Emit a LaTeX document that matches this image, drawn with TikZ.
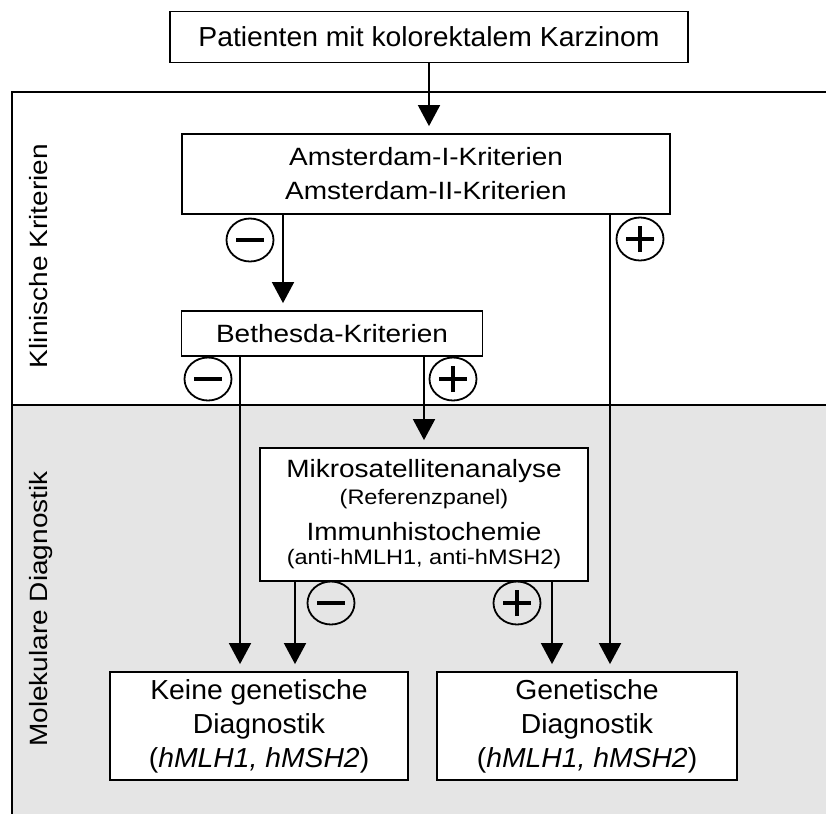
\documentclass[tikz,border=0pt]{standalone}
\usepackage{fontspec}
\setmainfont{Liberation Sans}[FakeStretch=1.12]
\newfontfamily\narrowfont{Liberation Sans}[FakeStretch=1.03]
\usepackage{tikz}
\usetikzlibrary{arrows.meta,shapes.geometric}
\definecolor{panelgray}{gray}{0.9}

\begin{document}
\begin{tikzpicture}[
  x=1pt,y=-1pt,
  box/.style={draw, fill=white, line width=1.8pt, align=center, inner sep=0pt, font=\fontsize{25}{34}\selectfont},
  nbox/.style={box, font=\narrowfont\fontsize{27.5}{34}\selectfont},
  side/.style={rotate=90, anchor=base, font=\fontsize{25}{30}\selectfont},
  sgn/.style={draw, ellipse, line width=1.8pt, minimum width=47pt, minimum height=43pt, inner sep=0pt},
  minus/.style={sgn, path picture={\draw[line width=4pt] ([xshift=-14pt]path picture bounding box.center) -- ([xshift=14pt]path picture bounding box.center);}},
  plus/.style={sgn, path picture={\draw[line width=4pt] ([xshift=-14pt]path picture bounding box.center) -- ([xshift=14pt]path picture bounding box.center) ([yshift=-13pt]path picture bounding box.center) -- ([yshift=13pt]path picture bounding box.center);}},
  arr/.style={-{Triangle[length=21pt,width=22pt]}, line width=1.8pt, shorten >=7pt}
]
\useasboundingbox (0,0) rectangle (826,814);
\fill[panelgray] (12,405) rectangle (826,814);
\draw[line width=1.8pt] (826,92) -- (12,92) -- (12,814);
\draw[line width=1.8pt] (12,405) -- (826,405);

\node[side] (klin) at (47,256) {Klinische Kriterien};
\node[side] (mol) at (47,609) {Molekulare Diagnostik};

\node[nbox, minimum width=518pt, minimum height=51pt] (pat) at (429,37) {Patienten mit kolorektalem Karzinom};
\node[box, minimum width=488pt, minimum height=80pt] (ams) at (426,174) {Amsterdam-I-Kriterien\\Amsterdam-II-Kriterien};
\node[box, minimum width=301pt, minimum height=45pt] (beth) at (332,333.5) {Bethesda-Kriterien};
\node[box, minimum width=328pt, minimum height=133pt, font=\fontsize{25}{30}\selectfont] (mikro) at (424,514.5) {Mikrosatellitenanalyse\\[-3pt]{\fontsize{21}{25}\selectfont(Referenzpanel)}\\[6pt]Immunhistochemie\\[-6pt]{\fontsize{21}{25}\selectfont(anti-hMLH1, anti-hMSH2)}};
\node[nbox, minimum width=298pt, minimum height=108pt] (keine) at (259,726) {Keine genetische\\Diagnostik\\(\textit{hMLH1, hMSH2})};
\node[nbox, minimum width=300pt, minimum height=108pt] (gen) at (587,726) {Genetische\\Diagnostik\\(\textit{hMLH1, hMSH2})};

\node[minus] (sA1) at (250,240) {};
\node[plus] (sA2) at (640,239) {};
\node[minus] (sB1) at (208,379) {};
\node[plus] (sB2) at (453,379) {};
\node[minus] (sM1) at (331,603) {};
\node[plus] (sM2) at (517,603) {};

\draw[arr] (pat.south) -- (pat.south |- ams.north);
\draw[arr] ([xshift=-143pt]ams.south) -- ([xshift=-143pt]ams.south |- beth.north);
\draw[arr] ([xshift=184pt]ams.south) -- ([xshift=184pt]ams.south |- gen.north);
\draw[arr] ([xshift=-92pt]beth.south) -- ([xshift=-92pt]beth.south |- keine.north);
\draw[arr] (beth.south -| mikro.north) -- (mikro.north);
\draw[arr] ([xshift=-129pt]mikro.south) -- ([xshift=-129pt]mikro.south |- keine.north);
\draw[arr] ([xshift=128pt]mikro.south) -- ([xshift=128pt]mikro.south |- gen.north);
\end{tikzpicture}
\end{document}
